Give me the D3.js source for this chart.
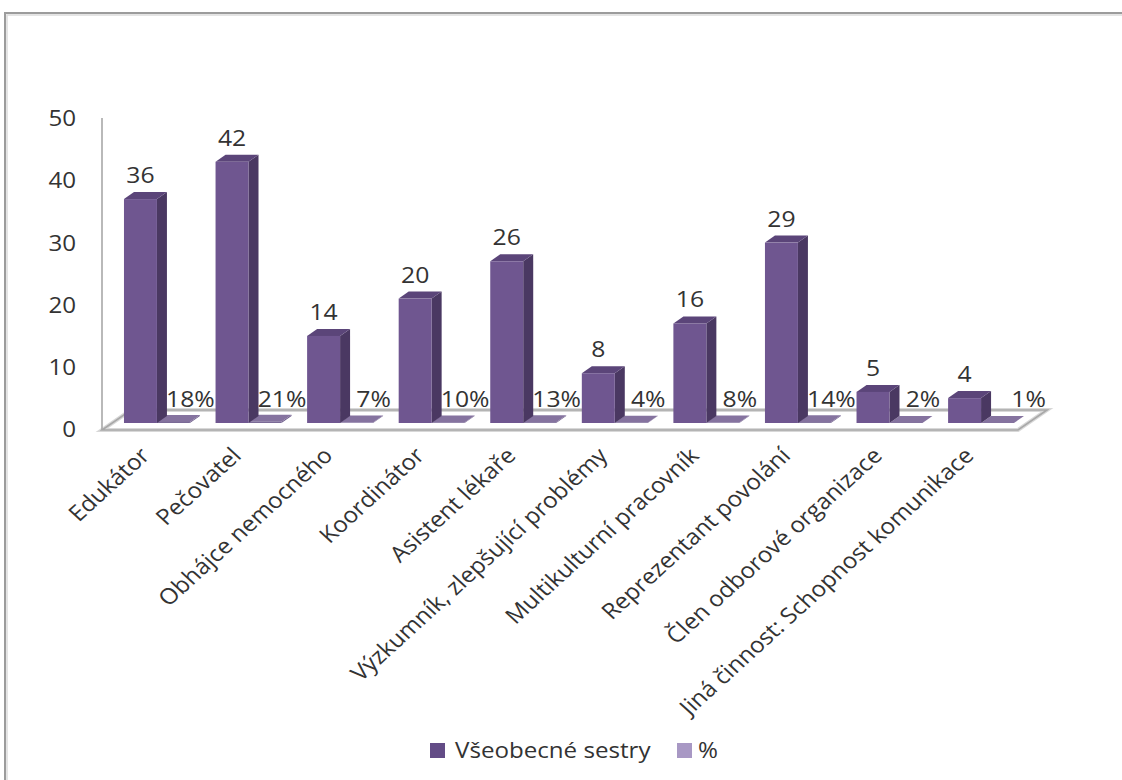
<!DOCTYPE html>
<html>
<head>
<meta charset="utf-8">
<script src="https://cdn.jsdelivr.net/npm/d3@7/dist/d3.min.js"></script>
<style>
  html, body { margin: 0; padding: 0; background: #fff; }
  svg { display: block; }
  text { font-family: "Open Sans", Lato, sans-serif; fill: #333; }
</style>
</head>
<body>
<svg id="chart" width="1122" height="780"></svg>
<script>
// ---- data ----
const categories = [
  "Edukátor", "Pečovatel", "Obhájce nemocného", "Koordinátor", "Asistent lékaře",
  "Výzkumník, zlepšující problémy", "Multikulturní pracovník", "Reprezentant povolání",
  "Člen odborové organizace", "Jiná činnost: Schopnost komunikace"
];
const seriesNames = ["Všeobecné sestry", "%"];
const nurses = [36, 42, 14, 20, 26, 8, 16, 29, 5, 4];
const percent = [18, 21, 7, 10, 13, 4, 8, 14, 2, 1];
const yTicks = [0, 10, 20, 30, 40, 50];

// ---- setup ----
const svg = d3.select("#chart");
const W = 1122, H = 780;
const SX = 1.15;     // horizontal stretch of the original picture's text
const SX_CAT = 1.1;  // stretch for the rotated category labels

// frame
svg.append("path")
  .attr("d", `M5,${H + 5} L5,13 L${W + 5},13`)
  .attr("fill", "none").attr("stroke", "#9c9c9c").attr("stroke-width", 2);
svg.append("path")
  .attr("d", `M7,${H + 5} L7,15 L${W + 5},15`)
  .attr("fill", "none").attr("stroke", "#dcdcdc").attr("stroke-width", 1.5);

// geometry of the 3D projection
const depthX = 10, depthY = -7;           // bar depth
const floorDX = 29, floorDY = -20;        // floor depth
const floorFrontY = 430;
const barBaseY = 423;

const x = d3.scaleBand().domain(categories).range([102, 1036])
  .paddingInner(0.28).paddingOuter(0.24);
const xs = d3.scaleBand().domain(seriesNames).range([0, x.bandwidth()]);
const yBar = d3.scaleLinear().domain([0, 50]).range([barBaseY, barBaseY - 311]);
const yAxisScale = d3.scaleLinear().domain([0, 50]).range([floorFrontY, 119]);

// floor
const fx0 = 102, fx1 = 1018;
const floorPts = [[fx0, floorFrontY], [fx1, floorFrontY], [fx1 + floorDX, floorFrontY + floorDY], [fx0 + floorDX, floorFrontY + floorDY]];
svg.append("polygon")
  .attr("points", floorPts.map(p => p.join(",")).join(" "))
  .attr("fill", "none").attr("stroke", "#d8d8d8").attr("stroke-width", 4);
svg.append("polygon")
  .attr("points", floorPts.map(p => p.join(",")).join(" "))
  .attr("fill", "none").attr("stroke", "#a8a8a8").attr("stroke-width", 1.6);

// vertical axis line
svg.append("line")
  .attr("x1", 102).attr("x2", 102).attr("y1", 118).attr("y2", floorFrontY)
  .attr("stroke", "#a8a8a8").attr("stroke-width", 1.6);

// y axis labels
const yAxis = d3.axisLeft(yAxisScale).tickValues(yTicks).tickSize(0).tickPadding(0);
const gy = svg.append("g").attr("transform", "translate(76,0)").call(yAxis);
gy.select(".domain").remove();
gy.selectAll("text").style("font-size", "21px").attr("fill", "#333")
  .style("font-family", "'Open Sans', Lato, sans-serif")
  .attr("transform", `scale(${SX},1)`);

// 3D bar drawing
function drawBar(g, x0, w, yTop, cFront, cSide, cTop) {
  const x1 = x0 + w;
  g.append("polygon") // side
    .attr("points", `${x1},${barBaseY} ${x1},${yTop} ${x1 + depthX},${yTop + depthY} ${x1 + depthX},${barBaseY + depthY}`)
    .attr("fill", cSide);
  g.append("polygon") // top
    .attr("points", `${x0},${yTop} ${x1},${yTop} ${x1 + depthX},${yTop + depthY} ${x0 + depthX},${yTop + depthY}`)
    .attr("fill", cTop);
  g.append("rect") // front
    .attr("x", x0).attr("y", yTop).attr("width", w).attr("height", Math.max(0, barBaseY - yTop))
    .attr("fill", cFront);
}

const bars = svg.append("g");
categories.forEach((c, i) => {
  const g = bars.append("g");
  const px = x(c) + xs("%");
  drawBar(g, px, xs.bandwidth(), yBar(percent[i] / 100), "#7a6a96", "#6b5a88", "#85739f");
  const mx = x(c) + xs("Všeobecné sestry");
  drawBar(g, mx, xs.bandwidth(), yBar(nurses[i]), "#6f5690", "#4a3862", "#5b4579");
});

// data labels
const labels = svg.append("g");
categories.forEach((c, i) => {
  const mx = x(c) + xs("Všeobecné sestry") + xs.bandwidth() / 2;
  labels.append("text")
    .attr("transform", `translate(${mx},${yBar(nurses[i]) - 16}) scale(${SX},1)`)
    .attr("text-anchor", "middle").style("font-size", "21.5px")
    .text(nurses[i]);
  const px = x(c) + xs("%") + xs.bandwidth() / 2 + 17 + (i === categories.length - 1 ? 14 : 0);
  labels.append("text")
    .attr("transform", `translate(${px},407) scale(${SX},1)`)
    .attr("text-anchor", "middle").style("font-size", "21.5px")
    .text(percent[i] + "%");
});

// category labels
const cats = svg.append("g");
categories.forEach((c) => {
  const cx = x(c) + xs.bandwidth() - 6;
  cats.append("text")
    .attr("transform", `translate(${cx},457) scale(${SX_CAT},1) rotate(-45)`)
    .attr("text-anchor", "end").style("font-size", "22px")
    .text(c);
});

// legend
const legend = svg.append("g");
const legendItems = [
  { name: seriesNames[0], color: "#634c86", x: 430, tx: 455 },
  { name: seriesNames[1], color: "#a898c4", x: 677, tx: 698 }
];
legendItems.forEach(d => {
  legend.append("rect").attr("x", d.x).attr("y", 743).attr("width", 15).attr("height", 15).attr("fill", d.color);
  legend.append("text").attr("transform", `translate(${d.tx},758) scale(${SX},1)`)
    .style("font-size", "21px").text(d.name);
});
</script>
</body>
</html>
